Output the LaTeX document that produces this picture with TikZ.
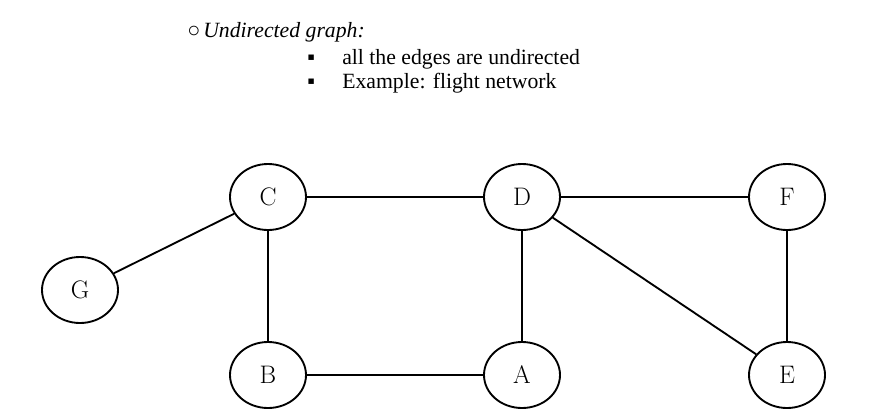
\documentclass[tikz,border=0pt]{standalone}
\usepackage{fontspec}
\newfontfamily\headfont{Liberation Serif}
\usetikzlibrary{shapes.geometric,positioning}

\begin{document}
\begin{tikzpicture}[x=0.75pt, y=-0.75pt, on grid,
    vertex/.style={ellipse, draw, line width=1.4pt, minimum width=57pt, minimum height=49.5pt, inner sep=0pt, font=\fontsize{19}{19}\selectfont},
    edge/.style={line width=1.4pt},
    head/.style={anchor=base west, inner sep=0pt, font=\headfont\fontsize{16.3}{18}\selectfont}]
    \useasboundingbox (0,0) rectangle (889,419);

    \node (ring) [head] at (187,37) {○};
    \node (title) [head] at (203,37) {\textit{Undirected graph:}};
    \node (dotA) [head] at (307,64) {▪};
    \node (itemA) [head] at (342,64) {all the edges are undirected};
    \node (dotB) [head] at (307,88) {▪};
    \node (itemB) [head] at (342,88) {Example: flight network};

    \node (C) [vertex] at (268,197) {C};
    \node (D) [vertex, right=190.5pt of C] {D};
    \node (F) [vertex, right=198.75pt of D] {F};
    \node (G) [vertex, below left=69.75pt and 141pt of C] {G};
    \node (B) [vertex, below=133.5pt of C] {B};
    \node (A) [vertex, below=133.5pt of D] {A};
    \node (E) [vertex, below=133.5pt of F] {E};

    \draw [edge] (G) -- (C);
    \draw [edge] (C) -- (D);
    \draw [edge] (D) -- (F);
    \draw [edge] (C) -- (B);
    \draw [edge] (B) -- (A);
    \draw [edge] (D) -- (A);
    \draw [edge] (F) -- (E);
    \draw [edge] (D) -- (E);
\end{tikzpicture}
\end{document}
